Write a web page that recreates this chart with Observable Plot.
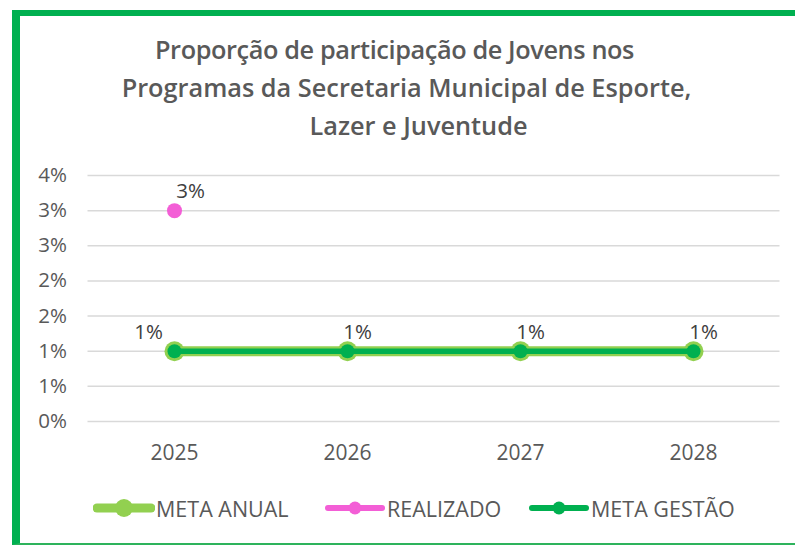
<!DOCTYPE html>
<html>
<head>
<meta charset="utf-8">
<script src="https://cdn.jsdelivr.net/npm/d3@7"></script>
<script src="https://cdn.jsdelivr.net/npm/@observablehq/plot@0.6"></script>
<style>
  html, body { margin: 0; padding: 0; background: #fff; }
  body { width: 795px; height: 546px; overflow: hidden; position: relative; font-family: "Open Sans", sans-serif; }
  #frame { position: absolute; left: 12px; top: 10px; width: 820px; height: 527px;
           border-left: 8px solid #00B050; border-top: 6px solid #00B050; border-bottom: 2px solid #2EB35C; }
  #title { position: absolute; left: 0; width: 793px; top: 30px; text-align: center;
           font-size: 25.3px; font-weight: 600; color: #595959; line-height: 38px; }
  #title div { position: relative; }
  #chart { position: absolute; left: 0; top: 160px; }
  .item { position: absolute; top: 496px; height: 24px; display: flex; align-items: center;
          font-size: 21.5px; color: #595959; }
  .item svg { display: block; margin-right: 1px; }
</style>
</head>
<body>
<div id="frame"></div>
<div id="title"></div>
<div id="chart"></div>
<div id="legend"></div>
<script>
const titleLines = ["Proporção de participação de Jovens nos",
                    "Programas da Secretaria Municipal de Esporte,",
                    "Lazer e Juventude"];
const years = ["2025", "2026", "2027", "2028"];
const metaAnual = [0.01, 0.01, 0.01, 0.01];
const realizado = [0.03, null, null, null];
const metaGestao = [0.01, 0.01, 0.01, 0.01];
const yTicks = [0, 0.005, 0.01, 0.015, 0.02, 0.025, 0.03, 0.035];
const yTickLabels = ["0%", "1%", "1%", "2%", "2%", "3%", "3%", "4%"];
const seriesNames = ["META ANUAL", "REALIZADO", "META GESTÃO"];

const cLight = "#92D050", cPink = "#F35ED6", cDark = "#00B050";
const pct = v => Math.round(v * 100) + "%";

const titleShift = [-2, 10, 22];
const titleStyle = ["letter-spacing:-0.4px", "", ""];
document.getElementById("title").innerHTML = titleLines
  .map((t, i) => `<div style="left:${titleShift[i]}px;${titleStyle[i]}">${t}</div>`).join("");

const rows = years.map((y, i) => ({year: y, anual: metaAnual[i], real: realizado[i], gestao: metaGestao[i], i}));
const realRows = rows.filter(d => d.real != null);

const chart = Plot.plot({
  width: 795,
  height: 320,
  marginTop: 15,
  marginBottom: 59,
  marginLeft: 87.5,
  marginRight: 15.5,
  style: {fontFamily: "Open Sans, sans-serif", fontSize: "20px", color: "#595959", background: "transparent"},
  x: {type: "point", domain: years, padding: 0.5, label: null},
  y: {domain: [0, 0.035], label: null},
  marks: [
    Plot.ruleY(yTicks, {stroke: "#D9D9D9", strokeWidth: 1.5}),
    Plot.axisY({ticks: yTicks, tickFormat: d => yTickLabels[yTicks.indexOf(d)], tickSize: 0, tickPadding: 21, fill: "#595959", fontSize: 20.5}),
    Plot.axisX({tickSize: 0, tickPadding: 24, fill: "#595959", fontSize: 21}),
    Plot.line(rows, {x: "year", y: "anual", stroke: cLight, strokeWidth: 10}),
    Plot.dot(rows, {x: "year", y: "anual", r: 10, fill: cLight}),
    Plot.line(rows, {x: "year", y: "gestao", stroke: cDark, strokeWidth: 5.5}),
    Plot.dot(rows, {x: "year", y: "gestao", r: 7, fill: cDark}),
    Plot.dot(realRows, {x: "year", y: "real", r: 7.5, fill: cPink}),
    Plot.text(realRows, {x: "year", y: "real", text: d => pct(d.real), dx: 16, dy: -19, fill: "#404040", fontSize: 20.5}),
    Plot.text(rows.filter(d => d.i === 0), {x: "year", y: "anual", text: d => pct(d.anual), dx: -26, dy: -19, fill: "#404040", fontSize: 20.5}),
    Plot.text(rows.filter(d => d.i > 0), {x: "year", y: "anual", text: d => pct(d.anual), dx: 10, dy: -19, fill: "#404040", fontSize: 20.5})
  ]
});
document.getElementById("chart").appendChild(chart);

const legendSpec = [
  {name: seriesNames[0], color: cLight, lw: 9, r: 9, left: 93},
  {name: seriesNames[1], color: cPink, lw: 6, r: 6.5, left: 324},
  {name: seriesNames[2], color: cDark, lw: 6, r: 6.5, left: 528}
];
const legend = document.getElementById("legend");
legendSpec.forEach(s => {
  const div = document.createElement("div");
  div.className = "item";
  div.style.left = s.left + "px";
  div.innerHTML = `<svg width="62" height="24"><line x1="4" x2="58" y1="12" y2="12" stroke="${s.color}" stroke-width="${s.lw}" stroke-linecap="round"/><circle cx="31" cy="12" r="${s.r}" fill="${s.color}"/></svg><span>${s.name}</span>`;
  legend.appendChild(div);
});
</script>
</body>
</html>
